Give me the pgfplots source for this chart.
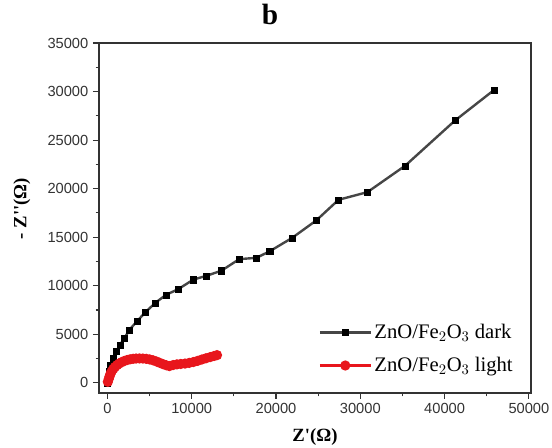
\documentclass[border=0pt]{standalone}
\usepackage{fontspec}
\setmainfont{Liberation Serif}
\newfontfamily\arialfont{Liberation Sans}
\usepackage{pgfplots}
\pgfplotsset{compat=1.18}
\definecolor{darkline}{RGB}{70,70,70}
\definecolor{lightred}{RGB}{232,22,28}
\begin{document}
\begin{tikzpicture}
\begin{axis}[
  scale only axis,
  width=324pt, height=262.5pt,
  xmin=-1000, xmax=50250,
  ymin=-1050, ymax=35000,
  xtick={0,10000,...,50000},
  ytick={0,5000,...,35000},
  minor x tick num=1,
  minor y tick num=1,
  tick pos=left,
  tick align=outside,
  major tick length=4.5pt,
  minor tick length=2.5pt,
  axis line style={black!80, line width=0.8pt},
  every tick/.style={black!80, line width=0.8pt},
  /pgf/number format/assume math mode=true,
  /pgf/number format/1000 sep={},
  scaled ticks=false,
  tick label style={font=\arialfont\fontsize{11}{13}\selectfont, text=black!80},
  xlabel={\textbf{Z\textquotesingle(Ω)}},
  ylabel={\textbf{- Z\textquotesingle\textquotesingle(Ω)}},
  label style={font=\fontsize{14}{16}\selectfont},
  xlabel style={yshift=-4pt},
  ylabel style={yshift=6pt, xshift=7pt},
  title={b},
  title style={at={(0.396,1)}, anchor=base, yshift=8pt,
    font=\bfseries\fontsize{22}{24}\selectfont},
  legend style={at={(rel axis cs:0.505,0.043)}, anchor=south west, draw=none, fill=none,
    font=\fontsize{15.5}{17}\selectfont, row sep=8.5pt, inner sep=1pt},
  legend cell align=left,
  legend image code/.code={
    \draw[mark repeat=2,mark phase=2] plot coordinates {(0pt,0pt) (19pt,0pt) (38pt,0pt)};
  },
]
% dark measurement
\addplot[darkline, line width=1.8pt, mark=square*, mark size=2.3pt,
  mark options={fill=black, draw=black, line width=0.2pt}] coordinates {
(0,0) (100,600) (160,1150) (320,1850) (640,2540) (1030,3220) (1500,3910)
(2020,4600) (2610,5460) (3480,6310) (4470,7240) (5650,8210) (6950,9060)
(8410,9650) (10190,10630) (11750,11020) (13530,11550) (15640,12740)
(17660,12870) (19240,13540) (21920,14930) (24770,16720) (27420,18850)
(30850,19640) (35310,22350) (41230,27010) (45900,30180)
};
\addlegendentry{ZnO/Fe$_2$O$_3$ dark}
% illuminated measurement
\addplot[lightred, line width=1.6pt, mark=*, mark size=3pt,
  mark options={fill=lightred, draw=lightred}] coordinates {
(50,100) (150,380) (250,650) (350,900) (500,1180) (700,1430) (900,1640)
(1150,1830) (1400,1990) (1700,2130) (2000,2250) (2350,2350) (2700,2420)
(3050,2470) (3400,2500) (3800,2510) (4200,2500) (4600,2470) (5000,2410)
(5400,2320) (5800,2200) (6200,2060) (6600,1920) (7000,1800) (7350,1720)
(7800,1830) (8250,1900) (8700,1940) (9200,1980) (9700,2050) (10200,2140)
(10700,2260) (11200,2400) (11700,2530) (12200,2650) (12650,2760) (13000,2850)
};
\addlegendentry{ZnO/Fe$_2$O$_3$ light}
\end{axis}
\pgfresetboundingbox
\path (current axis.south west) ++(-74.25pt,-41.25pt) rectangle ++(414pt,336pt);
\end{tikzpicture}
\end{document}
